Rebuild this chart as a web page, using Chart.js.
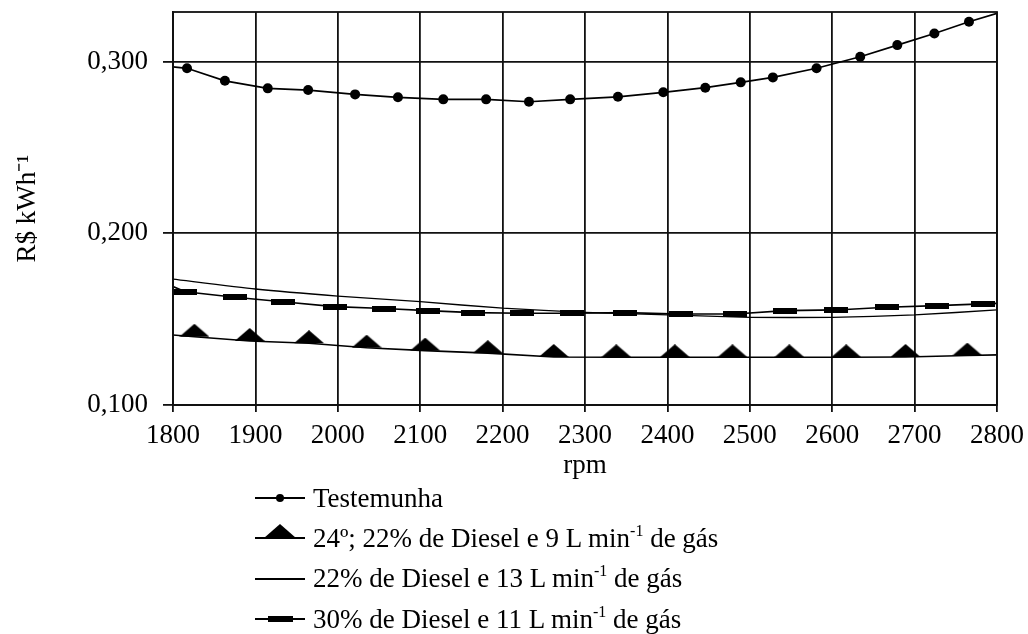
<!DOCTYPE html>
<html>
<head>
<meta charset="utf-8">
<script src="https://cdn.jsdelivr.net/npm/chart.js@4/dist/chart.umd.min.js"></script>
<style>
  body { margin: 0; background: #fff; }
  #wrap { position: relative; width: 1028px; height: 634px; }
  #legend { position: absolute; left: 255px; top: 478px; font-family: "Liberation Serif", serif; font-size: 27px; color: #000; }
  .row { height: 40.3px; display: flex; align-items: center; white-space: nowrap; }
  .row canvas { margin-right: 8px; }
  sup { font-size: 16px; line-height: 0; vertical-align: 11px; }
</style>
</head>
<body>
<div id="wrap">
  <canvas id="costChart" width="1028" height="634"></canvas>
  <div id="legend"></div>
</div>
<script>
// valores (R$ kWh-1 x rpm)
const testemunhaRpm = [1800, 1817, 1863, 1915, 1964, 2021, 2073, 2128, 2180, 2232, 2282, 2340, 2395, 2446, 2489, 2528, 2581, 2634, 2679, 2724, 2766, 2800];
const testemunhaVal = [0.2970, 0.2962, 0.2889, 0.2845, 0.2835, 0.2810, 0.2793, 0.2781, 0.2781, 0.2767, 0.2781, 0.2796, 0.2822, 0.2849, 0.2880, 0.2909, 0.2962, 0.3029, 0.3097, 0.3165, 0.3233, 0.3282];

const d22g9Rpm = [1800, 1826, 1893, 1965, 2035, 2106, 2182, 2262, 2338, 2409, 2479, 2548, 2617, 2689, 2764, 2800];
const d22g9Val = [0.1408, 0.1398, 0.1373, 0.1360, 0.1334, 0.1317, 0.1302, 0.1280, 0.1278, 0.1278, 0.1278, 0.1278, 0.1278, 0.1280, 0.1288, 0.1292];

const d22g13Rpm = [1800, 1900, 2000, 2100, 2200, 2300, 2400, 2500, 2600, 2700, 2800];
const d22g13Val = [0.1733, 0.1676, 0.1635, 0.1602, 0.1564, 0.1540, 0.1525, 0.1511, 0.1511, 0.1525, 0.1554];

const d30g11Rpm = [1800, 1815, 1875, 1933, 1996, 2056, 2109, 2164, 2223, 2284, 2348, 2416, 2482, 2543, 2605, 2666, 2727, 2783, 2800];
const d30g11Val = [0.1690, 0.1660, 0.1628, 0.1602, 0.1573, 0.1562, 0.1550, 0.1538, 0.1535, 0.1535, 0.1538, 0.1530, 0.1530, 0.1550, 0.1554, 0.1570, 0.1579, 0.1589, 0.1592];

const seriesLabels = [
  "Testemunha",
  "24º; 22% de Diesel e 9 L min<sup>-1</sup> de gás",
  "22% de Diesel e 13 L min<sup>-1</sup> de gás",
  "30% de Diesel e 11 L min<sup>-1</sup> de gás"
];
const seriesNames = seriesLabels.map(s => s.replace("<sup>-1</sup>", "-1"));

const xTicks = [1800, 1900, 2000, 2100, 2200, 2300, 2400, 2500, 2600, 2700, 2800];
const yTicks = [0.100, 0.200, 0.300];

const FONT = "'Liberation Serif', 'Times New Roman', serif";

function pts(xs, ys) {
  return xs.map((x, i) => ({ x: x, y: ys[i] }));
}
// sem marcador nas pontas da linha
function endsOff(xs, r) {
  return xs.map((x, i) => (i === 0 || i === xs.length - 1) ? 0 : r);
}

// marcadores: triângulo achatado e retângulo
function triangleMarker(w, h) {
  const c = document.createElement("canvas");
  c.width = w; c.height = h * 2;
  const g = c.getContext("2d");
  g.fillStyle = "#000";
  g.beginPath();
  g.moveTo(w / 2, 0);
  g.lineTo(w, h);
  g.lineTo(0, h);
  g.closePath();
  g.fill();
  return c;
}
function rectMarker(w, h) {
  const c = document.createElement("canvas");
  c.width = w; c.height = h;
  const g = c.getContext("2d");
  g.fillStyle = "#000";
  g.fillRect(0, 0, w, h);
  return c;
}
const triImg = triangleMarker(30, 13);
const rectImg = rectMarker(24, 6);

const frame = {
  id: "frame",
  afterDatasetsDraw(chart) {
    const a = chart.chartArea, ctx = chart.ctx;
    ctx.save();
    ctx.strokeStyle = "#111";
    ctx.lineWidth = 1.8;
    ctx.strokeRect(a.left, a.top, a.right - a.left, a.bottom - a.top);
    ctx.restore();
  }
};

const ctx = document.getElementById("costChart").getContext("2d");
const costChart = new Chart(ctx, {
  type: "line",
  data: {
    datasets: [
      {
        label: seriesNames[0],
        data: pts(testemunhaRpm, testemunhaVal),
        borderColor: "#000",
        backgroundColor: "#000",
        borderWidth: 1.7,
        pointRadius: endsOff(testemunhaRpm, 5),
        pointBorderWidth: 0,
        tension: 0
      },
      {
        label: seriesNames[1],
        data: pts(d22g9Rpm, d22g9Val),
        borderColor: "#000",
        backgroundColor: "#000",
        borderWidth: 1.6,
        pointStyle: triImg,
        pointRadius: endsOff(d22g9Rpm, 5),
        tension: 0
      },
      {
        label: seriesNames[2],
        data: pts(d22g13Rpm, d22g13Val),
        borderColor: "#000",
        borderWidth: 1.3,
        pointRadius: 0,
        tension: 0.2
      },
      {
        label: seriesNames[3],
        data: pts(d30g11Rpm, d30g11Val),
        borderColor: "#000",
        backgroundColor: "#000",
        borderWidth: 1.6,
        pointStyle: rectImg,
        pointRadius: endsOff(d30g11Rpm, 5),
        tension: 0
      }
    ]
  },
  options: {
    responsive: false,
    animation: false,
    events: [],
    layout: { padding: { left: 0, top: 12, right: 31, bottom: 152 } },
    plugins: {
      legend: { display: false },
      tooltip: { enabled: false }
    },
    scales: {
      x: {
        type: "linear",
        min: 1800,
        max: 2800,
        afterBuildTicks: (s) => { s.ticks = xTicks.map(v => ({ value: v })); },
        afterFit: (s) => { s.height = 77; s.paddingLeft = 0; s.paddingRight = 0; },
        ticks: {
          color: "#000",
          padding: 8,
          maxRotation: 0,
          autoSkip: false,
          font: { family: FONT, size: 27 },
          callback: (v) => String(v)
        },
        grid: { color: "#111", lineWidth: 1.8, tickLength: 7 },
        border: { color: "#111", width: 1.8 },
        title: {
          display: true,
          text: "rpm",
          color: "#000",
          padding: { top: 0, bottom: 0 },
          font: { family: FONT, size: 27 }
        }
      },
      y: {
        min: 0.1,
        max: 0.329,
        afterBuildTicks: (s) => { s.ticks = yTicks.map(v => ({ value: v })); },
        afterFit: (s) => { s.width = 173; s.paddingTop = 0; s.paddingBottom = 0; },
        ticks: {
          color: "#000",
          padding: 15,
          font: { family: FONT, size: 27 },
          callback: (v) => v.toFixed(3).replace(".", ",")
        },
        grid: { color: "#111", lineWidth: 1.8, tickLength: 10 },
        border: { color: "#111", width: 1.8 },
        title: {
          display: true,
          text: "R$ kWh⁻¹",
          color: "#000",
          padding: { top: 12, bottom: 0 },
          font: { family: FONT, size: 27 }
        }
      }
    }
  },
  plugins: [frame]
});

// legenda em HTML, uma linha por série
function legendIcon(i) {
  const c = document.createElement("canvas");
  c.width = 50; c.height = 30;
  const g = c.getContext("2d");
  g.strokeStyle = "#000";
  g.fillStyle = "#000";
  g.lineWidth = 2;
  g.beginPath();
  g.moveTo(0, 15);
  g.lineTo(50, 15);
  g.stroke();
  if (i === 0) {
    g.beginPath();
    g.arc(25, 15, 4, 0, Math.PI * 2);
    g.fill();
  } else if (i === 1) {
    g.beginPath();
    g.moveTo(25, 1);
    g.lineTo(41, 15);
    g.lineTo(9, 15);
    g.closePath();
    g.fill();
  } else if (i === 3) {
    g.fillRect(13, 12, 25, 6);
  }
  return c;
}

const legendBox = document.getElementById("legend");
seriesLabels.forEach((txt, i) => {
  const row = document.createElement("div");
  row.className = "row";
  row.appendChild(legendIcon(i));
  const span = document.createElement("span");
  span.innerHTML = txt;
  row.appendChild(span);
  legendBox.appendChild(row);
});
</script>
</body>
</html>
